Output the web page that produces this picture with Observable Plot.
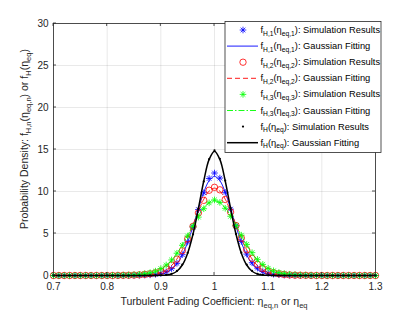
<!DOCTYPE html>
<html>
<head>
<meta charset="utf-8">
<script src="https://cdn.jsdelivr.net/npm/d3@7"></script>
<script src="https://cdn.jsdelivr.net/npm/@observablehq/plot@0.6"></script>
<style>
  html, body { margin: 0; padding: 0; background: #fff; }
  #chart svg { display: block; }
</style>
</head>
<body>
<div id="chart"></div>
<script>
// ---------- data ----------
const eta = [0.70,0.71,0.72,0.73,0.74,0.75,0.76,0.77,0.78,0.79,
  0.80,0.81,0.82,0.83,0.84,0.85,0.86,0.87,0.88,0.89,
  0.90,0.91,0.92,0.93,0.94,0.95,0.96,0.97,0.98,0.99,
  1.00,
  1.01,1.02,1.03,1.04,1.05,1.06,1.07,1.08,1.09,1.10,
  1.11,1.12,1.13,1.14,1.15,1.16,1.17,1.18,1.19,1.20,
  1.21,1.22,1.23,1.24,1.25,1.26,1.27,1.28,1.29,1.30];

const blueSim = [0,0,0,0,0,0,0,0,0,0,0,0,0,0,
  0.01,0.02,0.03,0.05,0.08,0.14,0.24,0.43,0.82,1.45,2.48,3.98,5.75,7.85,9.85,11.55,
  12.2,
  11.6,9.9,7.9,5.9,4.05,2.55,1.52,0.88,0.48,0.27,0.15,0.09,0.05,0.03,0.02,0.01,
  0,0,0,0,0,0,0,0,0,0,0,0,0,0];
const blueFit = [0,0,0,0,0,0,0,0,0,0,0,0,0,0,0,0,0,0,
  0.02,0.06,0.15,0.34,0.72,1.38,2.44,3.95,5.86,7.96,9.90,11.29,
  11.8,
  11.29,9.90,7.96,5.86,3.95,2.44,1.38,0.72,0.34,0.15,0.06,0.02,
  0,0,0,0,0,0,0,0,0,0,0,0,0,0,0,0,0,0];
const redSim = [0,0,0,0,0,0,0,0,0,0,0,0,
  0.01,0.02,0.03,0.05,0.08,0.13,0.2,0.32,0.5,0.78,1.25,1.95,2.95,4.35,5.85,7.45,8.95,10.15,
  10.5,
  10.2,9.05,7.55,5.95,4.45,3.05,2.05,1.32,0.82,0.52,0.33,0.2,0.12,0.07,0.04,0.03,0.02,0.01,
  0,0,0,0,0,0,0,0,0,0,0,0];
const redFit = [0,0,0,0,0,0,0,0,0,0,0,0,0,0,0,0,0,
  0.03,0.08,0.17,0.35,0.66,1.18,1.97,3.06,4.45,6.04,7.66,9.08,10.05,
  10.4,
  10.05,9.08,7.66,6.04,4.45,3.06,1.97,1.18,0.66,0.35,0.17,0.08,0.03,
  0,0,0,0,0,0,0,0,0,0,0,0,0,0,0,0,0];
const greenSim = [0,0,0,0,0,0,0,0,0,0,
  0.01,0.02,0.03,0.04,0.06,0.09,0.14,0.22,0.34,0.52,0.82,1.25,1.85,2.65,3.6,4.7,5.85,6.95,7.95,8.65,
  9.0,
  8.7,8.0,7.05,5.95,4.8,3.7,2.72,1.92,1.32,0.86,0.56,0.36,0.23,0.15,0.1,0.06,0.04,0.03,0.02,0.01,
  0,0,0,0,0,0,0,0,0,0];
const greenFit = [0,0,0,0,0,0,0,0,0,0,0,0,0,0,0,
  0.03,0.07,0.13,0.25,0.44,0.74,1.18,1.81,2.63,3.63,4.77,5.97,7.11,8.05,8.68,
  8.9,
  8.68,8.05,7.11,5.97,4.77,3.63,2.63,1.81,1.18,0.74,0.44,0.25,0.13,0.07,0.03,
  0,0,0,0,0,0,0,0,0,0,0,0,0,0,0];
const blackSim = [0,0,0,0,0,0,0,0,0,0,0,0,0,0,0,0,0,0,0,
  0.01,0.03,0.08,0.2,0.55,1.3,2.7,4.9,7.95,11.2,13.85,
  14.9,
  13.9,11.3,8.05,4.95,2.72,1.3,0.56,0.21,0.08,0.03,0.01,
  0,0,0,0,0,0,0,0,0,0,0,0,0,0,0,0,0,0,0];
const blackFit = [0,0,0,0,0,0,0,0,0,0,0,0,0,0,0,0,0,0,0,0,
  0.02,0.06,0.18,0.51,1.25,2.66,4.94,7.98,11.25,13.82,
  14.8,
  13.82,11.25,7.98,4.94,2.66,1.25,0.51,0.18,0.06,0.02,
  0,0,0,0,0,0,0,0,0,0,0,0,0,0,0,0,0,0,0,0];

const xTicks = [0.7,0.8,0.9,1.0,1.1,1.2,1.3];
const xTickLabels = ["0.7","0.8","0.9","1","1.1","1.2","1.3"];
const yTicks = [0,5,10,15,20,25,30];
const yTickLabels = ["0","5","10","15","20","25","30"];

const legendRows = [
  {n:"1", kind:"sim", text:"Simulation Results"},
  {n:"1", kind:"fit", text:"Gaussian Fitting"},
  {n:"2", kind:"sim", text:"Simulation Results"},
  {n:"2", kind:"fit", text:"Gaussian Fitting"},
  {n:"3", kind:"sim", text:"Simulation Results"},
  {n:"3", kind:"fit", text:"Gaussian Fitting"},
  {n:null, kind:"sim", text:"Simulation Results"},
  {n:null, kind:"fit", text:"Gaussian Fitting"}
];

// ---------- helpers ----------
const table = ys => eta.map((x, i) => ({x, y: ys[i]}));
const asterisk = {
  draw(ctx, size) {
    const r = Math.sqrt(size / Math.PI), d = r * Math.SQRT1_2;
    ctx.moveTo(-r, 0); ctx.lineTo(r, 0);
    ctx.moveTo(0, -r); ctx.lineTo(0, r);
    ctx.moveTo(-d, -d); ctx.lineTo(d, d);
    ctx.moveTo(-d, d); ctx.lineTo(d, -d);
  }
};
const AX = "#262626";
const FONT = "'Liberation Sans', Arial, Helvetica, sans-serif";

const styles = [
  {sim: blueSim, fit: blueFit, color: "#0000ff", marker: "ast", dash: null},
  {sim: redSim, fit: redFit, color: "#ff0000", marker: "circ", dash: "5,3"},
  {sim: greenSim, fit: greenFit, color: "#00ff00", marker: "ast", dash: "6,2,1.5,2"},
  {sim: blackSim, fit: blackFit, color: "#000000", marker: "dot", dash: null}
];

function simMark(s) {
  const data = table(s.sim);
  if (s.marker === "ast") return Plot.dot(data, {x:"x", y:"y", symbol: asterisk, r: 3.3, stroke: s.color, strokeWidth: 0.8, fill: "none"});
  if (s.marker === "circ") return Plot.dot(data, {x:"x", y:"y", r: 3.2, stroke: s.color, strokeWidth: 0.8, fill: "none"});
  return Plot.dot(data, {x:"x", y:"y", r: 1.1, fill: s.color, stroke: "none"});
}
function fitMark(s, i) {
  return Plot.line(table(s.fit), {x:"x", y:"y", stroke: s.color, strokeWidth: i === 3 ? 1.5 : 0.9,
    strokeDasharray: s.dash, curve: "catmull-rom"});
}

const marks = [
  Plot.gridX(xTicks, {stroke: AX, strokeOpacity: 0.13, strokeWidth: 0.8}),
  Plot.gridY(yTicks, {stroke: AX, strokeOpacity: 0.13, strokeWidth: 0.8}),
  Plot.axisX(xTicks, {anchor: "bottom", tickSize: 0, tickPadding: 7, label: null,
    tickFormat: (d, i) => xTickLabels[i], fill: AX, fontSize: 10}),
  Plot.axisY(yTicks, {anchor: "left", tickSize: 0, tickPadding: 5, label: null,
    tickFormat: (d, i) => yTickLabels[i], fill: AX, fontSize: 10}),
  Plot.frame({stroke: AX, strokeWidth: 0.8})
];
styles.forEach((s, i) => { marks.push(simMark(s)); marks.push(fitMark(s, i)); });

const chart = Plot.plot({
  width: 415, height: 312,
  marginLeft: 53, marginRight: 40, marginTop: 23, marginBottom: 37,
  x: {domain: [0.7, 1.3]},
  y: {domain: [0, 30]},
  style: {fontFamily: FONT, fontSize: "10px", background: "#fff", overflow: "visible"},
  marks
});
document.getElementById("chart").appendChild(chart);

// ---------- decorations: inward ticks, labels, legend ----------
const svg = d3.select(chart);
const sx = chart.scale("x"), sy = chart.scale("y");
const x0 = sx.apply(0.7), x1 = sx.apply(1.3), y0 = sy.apply(0), y1 = sy.apply(30);
const tk = svg.append("g").attr("stroke", AX).attr("stroke-width", 0.8);
xTicks.forEach(v => {
  const px = sx.apply(v);
  tk.append("line").attr("x1", px).attr("x2", px).attr("y1", y0).attr("y2", y0 - 3);
  tk.append("line").attr("x1", px).attr("x2", px).attr("y1", y1).attr("y2", y1 + 3);
});
yTicks.forEach(v => {
  const py = sy.apply(v);
  tk.append("line").attr("x1", x0).attr("x2", x0 + 3).attr("y1", py).attr("y2", py);
  tk.append("line").attr("x1", x1).attr("x2", x1 - 3).attr("y1", py).attr("y2", py);
});

// rich text with subscripts
function rich(textSel, parts, subShift) {
  parts.forEach(([t, sub]) => {
    const ts = textSel.append("tspan").text(t);
    if (sub) ts.attr("font-size", "0.72em").attr("dy", subShift);
  });
  const spans = textSel.selectAll("tspan").nodes();
  spans.forEach((n, i) => {
    const isSub = parts[i][1], prevSub = i > 0 && parts[i - 1][1];
    if (!isSub && prevSub) n.setAttribute("dy", -subShift);
  });
}

// x label
const xl = svg.append("text").attr("x", (x0 + x1) / 2).attr("y", 305)
  .attr("text-anchor", "middle").attr("font-size", 10.5).attr("fill", AX).attr("font-family", FONT);
rich(xl, [["Turbulent Fading Coefficient: η"], ["eq,n", 1], [" or η"], ["eq", 1]], 3);

// y label
const yl = svg.append("text").attr("transform", `translate(28,${(y0 + y1) / 2 - 10}) rotate(-90)`)
  .attr("text-anchor", "middle").attr("font-size", 10.5).attr("fill", AX).attr("font-family", FONT);
rich(yl, [["Probability Density: f"], ["H,n", 1], ["(η"], ["eq,n", 1], [") or f"], ["H", 1], ["(η"], ["eq", 1], [")"]], 3);

// legend
const lg = svg.append("g").attr("font-family", FONT).attr("text-anchor", "start");
lg.append("rect").attr("x", 225).attr("y", 21.5).attr("width", 156).attr("height", 131)
  .attr("fill", "#fff").attr("stroke", AX).attr("stroke-width", 0.8);
legendRows.forEach((row, i) => {
  const cy = 30 + i * 16.1;
  const s = styles[row.n ? +row.n - 1 : 3];
  if (row.kind === "sim") {
    if (s.marker === "ast") lg.append("path").attr("transform", `translate(243,${cy})`)
      .attr("d", d3.symbol(asterisk, Math.PI * 3.3 * 3.3)()).attr("stroke", s.color).attr("stroke-width", 0.8).attr("fill", "none");
    else if (s.marker === "circ") lg.append("circle").attr("cx", 243).attr("cy", cy).attr("r", 3.2)
      .attr("stroke", s.color).attr("stroke-width", 0.8).attr("fill", "none");
    else lg.append("circle").attr("cx", 243).attr("cy", cy).attr("r", 1.1).attr("fill", s.color);
  } else {
    lg.append("line").attr("x1", 227).attr("x2", 258).attr("y1", cy).attr("y2", cy)
      .attr("stroke", s.color).attr("stroke-width", s === styles[3] ? 1.5 : 0.9)
      .attr("stroke-dasharray", s.dash);
  }
  const t = lg.append("text").attr("x", 260.5).attr("y", cy + 3).attr("font-size", 9.3)
    .attr("fill", "#000").attr("text-anchor", "start");
  const parts = row.n
    ? [["f"], ["H," + row.n, 1], ["(η"], ["eq," + row.n, 1], ["): " + row.text]]
    : [["f"], ["H", 1], ["(η"], ["eq", 1], ["): " + row.text]];
  rich(t, parts, 2.6);
});
</script>
</body>
</html>
